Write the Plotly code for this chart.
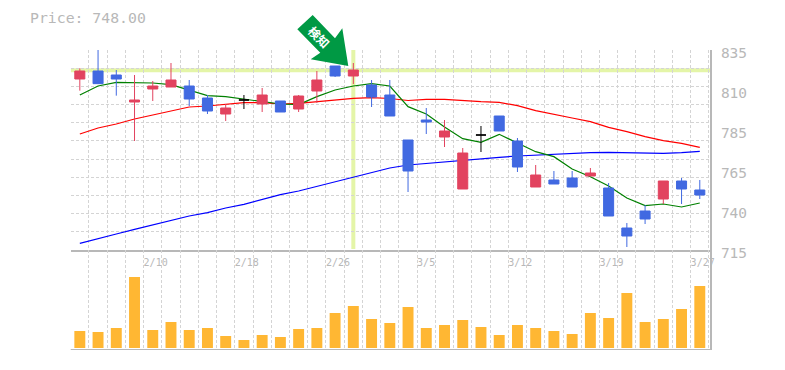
import plotly.graph_objects as go

idx = list(range(35))
open_ = [817.6,822.4,820,803.8,811.6,812.8,813.4,806.2,796.6,805,802.6,804.4,799.6,810.4,825.4,819.4,814,808,781,793,782.8,751.6,784,795.4,780.4,752.8,757,758.2,759.4,752.2,728.2,738.4,745.6,756.4,751]
high = [824,835,823,820,816.4,827.2,817,808,802.6,808,812.2,804.4,808,822.4,825.4,827.2,817,817,781,800.2,793,776.2,789.4,795.4,782.2,766,762.4,762.4,764.2,755.2,731.2,742,756.4,758.2,757]
low = [810.6,814.8,807.6,780.4,804.4,812.8,801.4,796.6,792.4,799.6,797.8,797.8,797.8,803.2,818.8,814.6,800.8,795.4,749.8,784.6,776.8,751.6,773.8,786.4,761.8,752.8,754.6,752.8,759.4,735.4,716.8,730.6,742.6,742.6,745.6]
close = [822.4,814.8,817.6,805,813.4,817,805.6,798.4,800.2,805,808,797.8,807.4,817,819.4,823,806.8,795.4,762.4,791.8,786.4,773.2,784,786.4,764.8,760,754.6,752.8,761.2,735.4,723.4,733.6,756.4,751.6,748]
ma_short = [808,813.4,815.6,815.6,815.2,814.2,811,807.6,807,805.4,804,802.6,802.2,807,811,813.4,814.8,813.4,801,796.6,788.8,781.8,779.6,784.4,779.2,774,771,763.6,759,753.4,746.2,741.6,742.6,740.8,743.2]
ma_mid = [784.6,788.2,790.6,793.6,796,798.6,800.8,801.4,802.6,803.4,803.4,802.6,803,804,805.4,806,806.4,805.9,804.7,805.4,805.4,804.6,804,803.6,801.6,798.6,796.6,794.2,792,788.6,786,783,780.6,779,776.6]
ma_long = [719,722,724.6,727.4,730,733,735.4,737.4,740.2,742.4,745.2,748.2,750.4,753.2,755.8,758.8,761.4,764.2,766,767,767.6,768.6,769.8,770.6,771.4,772,772.4,773,773.4,773.6,773.4,773,773,773.4,774.2]
volume = [17,16,20,71,18,26,18,20,12,8,13,11,19,20,35,42,29,25,41,20,23,28,21,13,23,20,17,14,35,30,55,26,29,39,62]
date_ticks = [3.5,8.5,13.5,18.5,23.5,28.5,33.5]
date_labels = ["2/10","2/18","2/26","3/5\u00a0","3/12","3/19","3/27"]
price_ticks = [715,739,763,787,811,835]
price_labels = ["715","740","765","785","810","835"]
grid_prices = [715 + 120 / 11 * i for i in range(12)]

W, H = 785, 370
GREY = "#b8b8b8"
GRID = "#d4d4d4"
MONO = "DejaVu Sans Mono"
RED = "#e2435f"
BLUE = "#4169e1"

def px(x): return x / W
def py(y): return 1 - y / H

fig = go.Figure()
for vals, col in ((ma_long, "#0000ff"), (ma_mid, "#ff0000"), (ma_short, "#008000")):
    fig.add_trace(go.Scatter(x=idx, y=vals, mode="lines", line=dict(color=col, width=1.2),
                             xaxis="x", yaxis="y", showlegend=False))

plain = [i for i in idx if open_[i] != close[i]]
doji = [i for i in idx if open_[i] == close[i]]
for sel, up, down in ((plain, RED, BLUE), (doji, "#000000", "#000000")):
    fig.add_trace(go.Candlestick(
        x=sel, open=[open_[i] for i in sel], high=[high[i] for i in sel],
        low=[low[i] for i in sel], close=[close[i] for i in sel],
        increasing=dict(line=dict(color=up, width=1), fillcolor=up),
        decreasing=dict(line=dict(color=down, width=1), fillcolor=down),
        whiskerwidth=0, xaxis="x", yaxis="y3", showlegend=False))

fig.add_trace(go.Bar(x=idx, y=volume, width=0.6, marker=dict(color="#ffb733", line_width=0),
                     xaxis="x2", yaxis="y2", showlegend=False))

grid = dict(showgrid=True, gridcolor=GRID, gridwidth=1, griddash="3px,2px")
xrange_ = [-0.5, 34.56]
fig.update_layout(
    width=W, height=H, margin=dict(l=0, r=0, t=0, b=0, autoexpand=False), autosize=False,
    paper_bgcolor="white", plot_bgcolor="white", boxmode="overlay", boxgap=0.45, boxgroupgap=0,
    font=dict(family=MONO, color=GREY),
    xaxis=dict(domain=[px(70.7), px(710)], range=xrange_, anchor="y", tick0=-0.5, dtick=1,
               showticklabels=False, ticks="", zeroline=False, rangeslider=dict(visible=False),
               showline=True, linecolor=GREY, linewidth=2, **grid),
    yaxis=dict(domain=[py(250), py(50)], range=[715, 835], anchor="x", side="right",
               tickvals=price_ticks, ticktext=price_labels, ticks="", showgrid=False,
               zeroline=False, showline=True, linecolor=GREY, linewidth=2,
               tickfont=dict(family=MONO, size=14.5, color=GREY),
               ticklabelshift=3, ticklabelstandoff=6, ticklabeloverflow="allow",
               minor=dict(tickvals=grid_prices, ticks="", **grid)),
    yaxis3=dict(overlaying="y", range=[715, 835], side="right", anchor="x", showgrid=False,
                showticklabels=False, ticks="", zeroline=False),
    xaxis2=dict(domain=[px(70.7), px(710)], range=xrange_, anchor="y2", side="top",
                tickvals=date_ticks, ticktext=date_labels, ticks="",
                ticklabelposition="inside", ticklabelshift=12, ticklabelstandoff=6,
                ticklabeloverflow="allow", tickfont=dict(family=MONO, size=10, color=GREY),
                zeroline=False, showline=False, showgrid=False,
                minor=dict(tick0=-0.5, dtick=1, ticks="", **grid)),
    yaxis2=dict(domain=[py(350), py(250)], range=[-2, 98], anchor="x2", side="right",
                showgrid=False, showticklabels=False, ticks="", zeroline=False,
                showline=True, linecolor=GREY, linewidth=2),
)

HILITE = "#e4f5a8"
fig.add_shape(type="line", xref="x", yref="y", x0=-0.5, x1=34.56, y0=822.8, y1=822.8,
              line=dict(color=HILITE, width=4), layer="below")
fig.add_shape(type="line", xref="x", yref="y", x0=15, x1=15, y0=715.6, y1=835,
              line=dict(color=HILITE, width=4), layer="below")
fig.add_shape(type="line", xref="x2 domain", yref="y2", x0=0, x1=1, y0=-2, y1=-2,
              line=dict(color=GREY, width=2), layer="above")

arrow = [(312.7, 15), (297.3, 29.3), (320.3, 52.7), (310.7, 59.3), (348.3, 66), (342.3, 28.3), (335, 38.3)]
path = "M " + " L ".join(f"{px(x):.5f} {py(y):.5f}" for x, y in arrow) + " Z"
fig.add_shape(type="path", xref="paper", yref="paper", path=path,
              fillcolor="#009944", line=dict(width=0), layer="above")
fig.add_annotation(xref="paper", yref="paper", x=px(319), y=py(37), text="<b>検知</b>", textangle=45,
                   showarrow=False, font=dict(family="Noto Sans CJK JP", size=12, color="white"),
                   xanchor="center", yanchor="middle")
fig.add_annotation(xref="paper", yref="paper", x=px(30), y=py(18), text="Price: 748.00",
                   showarrow=False, font=dict(family=MONO, size=14.8, color=GREY),
                   xanchor="left", yanchor="middle", xshift=-2)

fig.write_html("out.html", config=dict(displayModeBar=False),
               post_script="document.body.style.margin='0';")
